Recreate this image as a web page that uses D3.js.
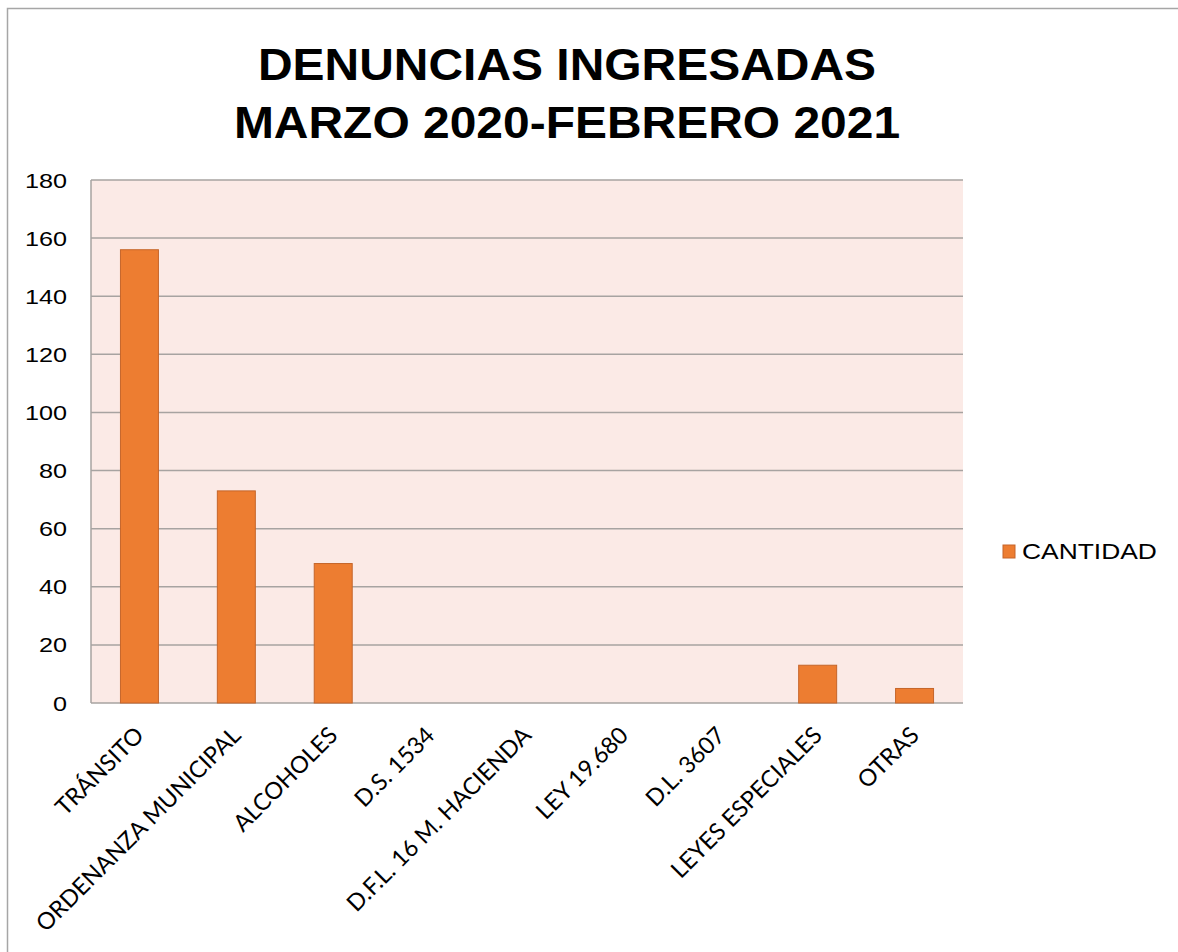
<!DOCTYPE html>
<html>
<head>
<meta charset="utf-8">
<script src="https://cdn.jsdelivr.net/npm/d3@7"></script>
<style>
  html, body { margin: 0; padding: 0; background: #fff; }
  svg { display: block; }
</style>
</head>
<body>
<svg id="chart" width="1178" height="952"></svg>
<script>
// ===============================
// Dades
// ===============================
const categories = [
  "TRÁNSITO", "ORDENANZA MUNICIPAL", "ALCOHOLES", "D.S. 1534",
  "D.F.L. 16 M. HACIENDA", "LEY 19.680", "D.L. 3607", "LEYES ESPECIALES", "OTRAS"
];
const cantidad = [156, 73, 48, 0, 0, 0, 0, 13, 5];
const yTicks = [0, 20, 40, 60, 80, 100, 120, 140, 160, 180];
const titleLines = ["DENUNCIAS INGRESADAS", "MARZO 2020-FEBRERO 2021"];
const seriesName = "CANTIDAD";

// ===============================
// Dibuix
// ===============================
const svg = d3.select("#chart");

const plot = { left: 91, right: 963, top: 180, bottom: 703 };
const arial = "'Liberation Sans', Arial, sans-serif";

// marc exterior (tallat a la dreta i a baix)
svg.append("rect")
  .attr("x", 7.5)
  .attr("y", 8.5)
  .attr("width", 1200)
  .attr("height", 1000)
  .attr("fill", "#fff")
  .attr("stroke", "#a6a6a6")
  .attr("stroke-width", 1.5);

const x = d3.scaleBand()
  .domain(categories)
  .range([plot.left, plot.right])
  .paddingInner(0.608)
  .paddingOuter(0.304);

const y = d3.scaleLinear()
  .domain([0, 180])
  .range([plot.bottom, plot.top]);

// fons de l'àrea
svg.append("rect")
  .attr("x", plot.left)
  .attr("y", plot.top)
  .attr("width", plot.right - plot.left)
  .attr("height", plot.bottom - plot.top)
  .attr("fill", "#fbeae6");

// graella
svg.append("g")
  .selectAll("line")
  .data(yTicks)
  .enter()
  .append("line")
  .attr("x1", plot.left)
  .attr("x2", plot.right)
  .attr("y1", d => y(d))
  .attr("y2", d => y(d))
  .attr("stroke", "#a7a3a1")
  .attr("stroke-width", 1.5);

// eix vertical
svg.append("line")
  .attr("x1", plot.left)
  .attr("x2", plot.left)
  .attr("y1", plot.top)
  .attr("y2", plot.bottom)
  .attr("stroke", "#a7a3a1")
  .attr("stroke-width", 1.5);

// etiquetes Y (el text original és una mica eixamplat)
svg.append("g")
  .selectAll("text")
  .data(yTicks)
  .enter()
  .append("text")
  .attr("transform", d => `translate(67, ${y(d)}) scale(1.2, 1)`)
  .attr("dy", "0.36em")
  .attr("text-anchor", "end")
  .text(d => d)
  .style("font-family", arial)
  .style("font-size", "21px")
  .style("fill", "#000");

// barres
svg.append("g")
  .selectAll("rect")
  .data(categories)
  .enter()
  .append("rect")
  .attr("x", d => x(d))
  .attr("y", (d, i) => y(cantidad[i]))
  .attr("width", x.bandwidth())
  .attr("height", (d, i) => y(0) - y(cantidad[i]))
  .attr("fill", "#ed7d31")
  .attr("stroke", (d, i) => cantidad[i] > 0 ? "#c5652a" : "none")
  .attr("stroke-width", 1);

// etiquetes X (girades)
svg.append("g")
  .selectAll("text")
  .data(categories)
  .enter()
  .append("text")
  .attr("transform", d => `translate(${x(d) + x.bandwidth() / 2}, ${plot.bottom + 28}) rotate(-45)`)
  .attr("text-anchor", "end")
  .attr("dy", "0.35em")
  .text(d => d)
  .style("font-family", "Lato, 'Open Sans', sans-serif")
  .style("font-size", "23.4px")
  .style("fill", "#000");

// títol
svg.append("g")
  .selectAll("text")
  .data(titleLines)
  .enter()
  .append("text")
  .attr("transform", (d, i) => `translate(567, ${80 + i * 58}) scale(1.09, 1)`)
  .attr("text-anchor", "middle")
  .text(d => d)
  .style("font-family", arial)
  .style("font-size", "44px")
  .style("font-weight", "bold")
  .style("fill", "#000");

// llegenda
const legend = svg.append("g").attr("transform", "translate(1003, 545)");
legend.append("rect")
  .attr("width", 12)
  .attr("height", 13)
  .attr("fill", "#ed7d31")
  .attr("stroke", "#c5652a")
  .attr("stroke-width", 1);
legend.append("text")
  .attr("transform", "translate(19, 14) scale(1.2, 1)")
  .text(seriesName)
  .style("font-family", arial)
  .style("font-size", "22px")
  .style("fill", "#000");
</script>
</body>
</html>
